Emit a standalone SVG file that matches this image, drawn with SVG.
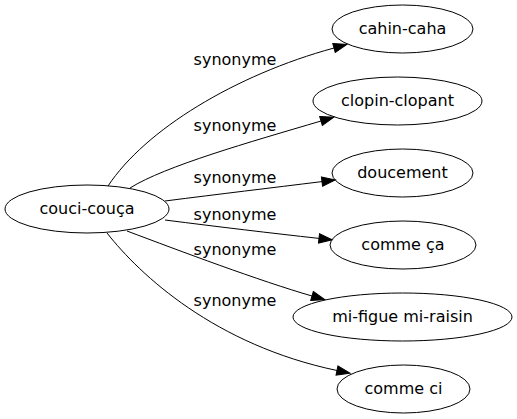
<svg xmlns="http://www.w3.org/2000/svg" width="517" height="419" viewBox="0 0 517 419">
<style>
.node ellipse{fill:none;stroke:#000;stroke-width:1}
text{font-family:"DejaVu Sans","Liberation Sans",sans-serif;font-size:16px;fill:#000;text-anchor:middle}
.edges path{fill:none;stroke:#000;stroke-width:1;marker-end:url(#arr)}
</style>
<defs>
<marker id="arr" markerUnits="userSpaceOnUse" markerWidth="15" markerHeight="11" refX="0" refY="4.7" orient="auto" overflow="visible">
<path d="M0,0 L13.3,4.7 L0,9.4 Z" fill="#000" stroke="#000" stroke-width="1"/>
</marker>
</defs>
<rect width="517" height="419" fill="#fff"/>
<g class="edges" id="edges">
<path d="M108,186 C145,130 235,75 334,48"/>
<path d="M130,188 C165,166 250,142 321,121"/>
<path d="M165,201 C220,194 270,188 322,181.6"/>
<path d="M165,220 C220,227 270,233 319,238.4"/>
<path d="M127,231 C180,251 260,281 312,296"/>
<path d="M107,233 C140,275 215,345 337,370.5"/>
<text x="235" y="65">synonyme</text>
<text x="235" y="131">synonyme</text>
<text x="235" y="183">synonyme</text>
<text x="235" y="220">synonyme</text>
<text x="235" y="255">synonyme</text>
<text x="235" y="306">synonyme</text>
</g>
<g class="node" id="n0"><ellipse cx="87" cy="209" rx="82" ry="24"/><text x="87" y="214">couci-couça</text></g>
<g class="node" id="n1"><ellipse cx="402.5" cy="29" rx="70.5" ry="24"/><text x="402.5" y="34">cahin-caha</text></g>
<g class="node" id="n2"><ellipse cx="397.5" cy="101" rx="84.5" ry="24"/><text x="397.5" y="106">clopin-clopant</text></g>
<g class="node" id="n3"><ellipse cx="402.5" cy="173" rx="70.5" ry="24"/><text x="402.5" y="178">doucement</text></g>
<g class="node" id="n4"><ellipse cx="403" cy="245" rx="73" ry="24"/><text x="403" y="250">comme ça</text></g>
<g class="node" id="n5"><ellipse cx="402.5" cy="317" rx="109.5" ry="24"/><text x="402.5" y="322">mi-figue mi-raisin</text></g>
<g class="node" id="n6"><ellipse cx="403.5" cy="389" rx="66.5" ry="24"/><text x="403.5" y="394">comme ci</text></g>
</svg>
